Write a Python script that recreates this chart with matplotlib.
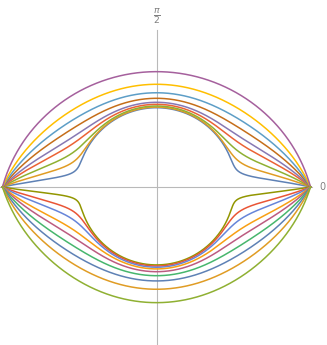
import numpy as np
import matplotlib
matplotlib.use("Agg")
import matplotlib.pyplot as plt

# radius at the x axis (pixels), every curve meets there
R = 154.0

# upper half, inner -> outer: radius at pi/2 (fraction of R) and steepness
upper_top = [0.515, 0.519, 0.526, 0.537, 0.550, 0.576, 0.612, 0.667, 0.749]
upper_k = [9.5, 5.2, 3.5, 2.58, 2.1, 1.65, 1.32, 1.04, 0.5]
upper_colors = ["#5E81B5", "#E09C24", "#8FB032", "#EB6235", "#8778B3",
                "#C56E1A", "#5D9EC7", "#FFBF00", "#A5609D"]

# lower half, inner -> outer
lower_top = [0.506, 0.513, 0.521, 0.532, 0.550, 0.576, 0.610, 0.664, 0.751]
lower_k = [11.9, 5.2, 3.7, 2.6, 2.1, 1.65, 1.3, 1.07, 0.9]
lower_colors = ["#929600", "#E95536", "#6685D9", "#F89F13", "#BC5B80",
                "#47B66D", "#5E81B5", "#E09C24", "#8FB032"]

fig = plt.figure(figsize=(3.27, 3.45), dpi=100)
ax = fig.add_axes([0, 0, 1, 1])
ax.set_xlim(-156.5, 170.5)
ax.set_ylim(-158, 187)
ax.axis("off")

# axes lines
ax.plot([-156.5, 155.5], [0, 0], color="#b9b9b9", lw=0.8, zorder=0)
ax.plot([0, 0], [-158, 157], color="#b9b9b9", lw=0.8, zorder=0)
ax.text(166, 0, "0", color="#808080", fontsize=7, ha="center", va="center")
ax.text(0, 171, r"$\frac{\pi}{2}$", color="#808080", fontsize=9.5,
        ha="center", va="center")

theta = np.linspace(0, np.pi, 1500)
s = np.sin(theta)


def radius(top, k):
    return R - R * (1 - top) * np.tanh(k * s) / np.tanh(k)


for top, k, c in zip(upper_top, upper_k, upper_colors):
    r = radius(top, k)
    ax.plot(r * np.cos(theta), r * np.sin(theta), color=c, lw=1.1)

for top, k, c in zip(lower_top, lower_k, lower_colors):
    r = radius(top, k)
    ax.plot(r * np.cos(theta), -r * np.sin(theta), color=c, lw=1.1)

plt.savefig("out.png", dpi=100)
